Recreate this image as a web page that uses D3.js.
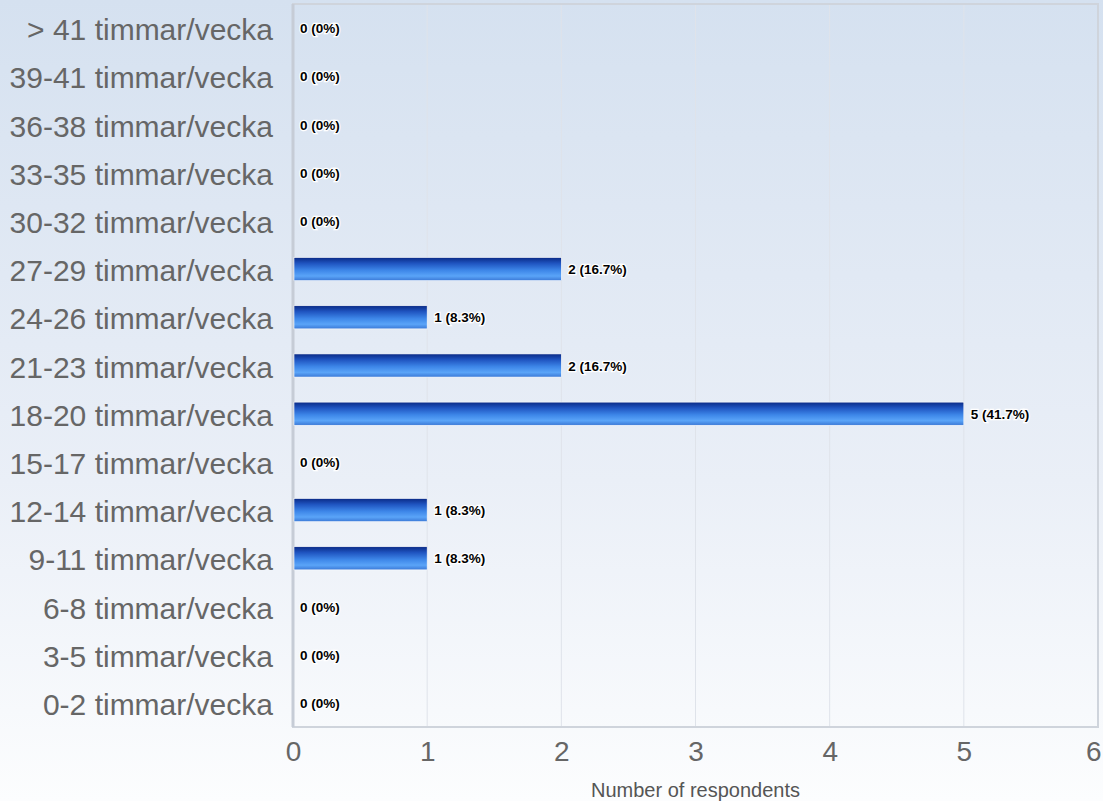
<!DOCTYPE html>
<html><head><meta charset="utf-8">
<script src="https://cdn.jsdelivr.net/npm/d3@7"></script>
<style>html,body{margin:0;padding:0;}svg{display:block;}</style>
</head><body>
<script>
const categories = ["> 41 timmar/vecka","39-41 timmar/vecka","36-38 timmar/vecka","33-35 timmar/vecka","30-32 timmar/vecka","27-29 timmar/vecka","24-26 timmar/vecka","21-23 timmar/vecka","18-20 timmar/vecka","15-17 timmar/vecka","12-14 timmar/vecka","9-11 timmar/vecka","6-8 timmar/vecka","3-5 timmar/vecka","0-2 timmar/vecka"];
const counts = [0,0,0,0,0,2,1,2,5,0,1,1,0,0,0];
const percents = ["0%","0%","0%","0%","0%","16.7%","8.3%","16.7%","41.7%","0%","8.3%","8.3%","0%","0%","0%"];
const xTicks = [0,1,2,3,4,5,6];
const xTitle = "Number of respondents";

const W = 1103, H = 801;
const m = {left:293, right:5, top:4, bottom:74};
const svg = d3.select("body").append("svg").attr("width",W).attr("height",H);
const defs = svg.append("defs");
const bg = defs.append("linearGradient").attr("id","bg").attr("x1",0).attr("y1",0).attr("x2",0).attr("y2",1);
bg.append("stop").attr("offset","0%").attr("stop-color","#d5e1f0");
bg.append("stop").attr("offset","60%").attr("stop-color","#eaeff7");
bg.append("stop").attr("offset","100%").attr("stop-color","#fcfdfe");
const bar = defs.append("linearGradient").attr("id","bar").attr("x1",0).attr("y1",0).attr("x2",0).attr("y2",1);
[["0%","#0a2a86"],["25%","#1f54c0"],["55%","#3d86e8"],["80%","#5aa4f8"],["100%","#3a78d6"]].forEach(s=>bar.append("stop").attr("offset",s[0]).attr("stop-color",s[1]));

svg.append("rect").attr("width",W).attr("height",H).attr("fill","url(#bg)");

const x = d3.scaleLinear().domain([0,6]).range([m.left, W-m.right]);
const y = d3.scaleBand().domain(categories).range([m.top, H-m.bottom]).paddingInner(0.52).paddingOuter(0.26);

// grid
svg.append("g").selectAll("line").data(xTicks.slice(1,-1)).join("line")
  .attr("x1",d=>x(d)).attr("x2",d=>x(d)).attr("y1",m.top).attr("y2",H-m.bottom)
  .attr("stroke","#dfe3ea").attr("stroke-width",1);
// plot border
svg.append("rect").attr("x",m.left).attr("y",m.top).attr("width",W-m.right-m.left).attr("height",H-m.bottom-m.top)
  .attr("fill","none").attr("stroke","#cfd4dc").attr("stroke-width",2);
svg.append("line").attr("x1",m.left).attr("x2",m.left).attr("y1",m.top).attr("y2",H-m.bottom).attr("stroke","#c6ccd6").attr("stroke-width",3);

// bars
svg.append("g").selectAll("rect").data(counts).join("rect")
  .attr("x",x(0)+1).attr("y",(d,i)=>y(categories[i]))
  .attr("width",d=>Math.max(0,x(d)-x(0)-1)).attr("height",y.bandwidth())
  .attr("fill","url(#bar)").attr("stroke",d=>d>0?"#ffffff":"none").attr("stroke-width",0.6);

// labels
svg.append("g").selectAll("text").data(counts).join("text")
  .attr("x",d=>x(d)+7).attr("y",(d,i)=>y(categories[i])+y.bandwidth()/2)
  .attr("dy","0.38em").attr("font-family","Liberation Sans, Arial, sans-serif").attr("font-weight","bold")
  .attr("font-size",13.5).attr("fill","#000").attr("stroke","#fff").attr("stroke-width",2.5).attr("paint-order","stroke")
  .text((d,i)=>`${d} (${percents[i]})`);

// y axis labels
const yAxis = d3.axisLeft(y).tickSize(0).tickPadding(20);
const gy = svg.append("g").attr("transform",`translate(${m.left},0)`).call(yAxis);
gy.select(".domain").remove();
gy.selectAll("text").attr("font-family","Liberation Sans, Arial, sans-serif").attr("font-size",30).attr("fill","#666").attr("dy","0.4em");

// x axis
const xAxis = d3.axisBottom(x).tickValues(xTicks).tickSize(0).tickPadding(14).tickFormat(d3.format("d"));
const gx = svg.append("g").attr("transform",`translate(0,${H-m.bottom})`).call(xAxis);
gx.select(".domain").remove();
gx.selectAll("text").attr("font-family","Liberation Sans, Arial, sans-serif").attr("font-size",28).attr("fill","#666");
gx.selectAll(".tick").filter(d=>d===6).select("text").attr("text-anchor","end").attr("x",3);

svg.append("text").attr("x",(x(0)+x(6))/2).attr("y",797).attr("text-anchor","middle")
  .attr("font-family","Liberation Sans, Arial, sans-serif").attr("font-size",20).attr("fill","#555").text(xTitle);
</script>
</body></html>
